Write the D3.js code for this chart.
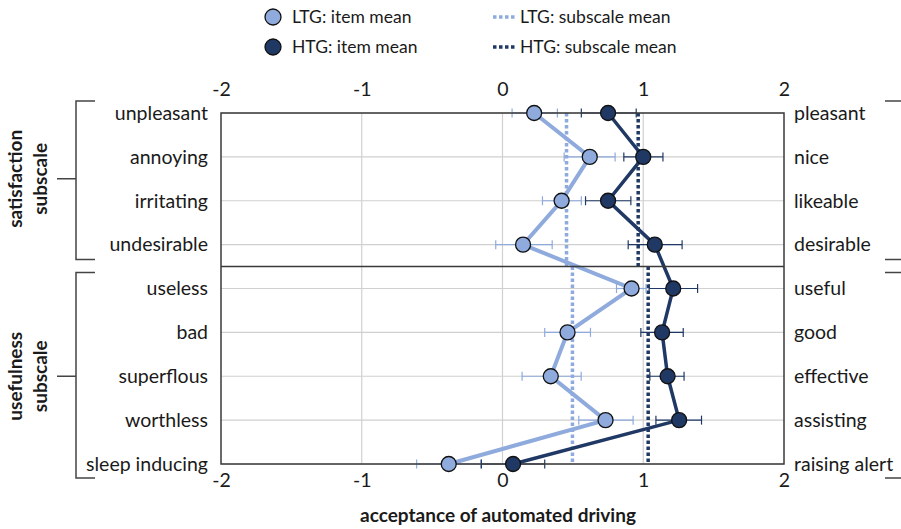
<!DOCTYPE html>
<html>
<head>
<meta charset="utf-8">
<script src="https://cdn.jsdelivr.net/npm/d3@7"></script>
<style>
  body { margin: 0; background: #fff; }
  svg { font-family: Lato, "Open Sans", sans-serif; }
</style>
</head>
<body>
<svg id="chart" width="901" height="529"></svg>
<script>
// item pairs (left pole / right pole)
const leftItems = ["unpleasant", "annoying", "irritating", "undesirable", "useless", "bad", "superflous", "worthless", "sleep inducing"];
const rightItems = ["pleasant", "nice", "likeable", "desirable", "useful", "good", "effective", "assisting", "raising alert"];
const xTicks = [-2, -1, 0, 1, 2];

// LTG: item mean and confidence interval
const ltgMean = [0.225, 0.62, 0.42, 0.146, 0.917, 0.462, 0.343, 0.732, -0.382];
const ltgLow  = [0.068, 0.438, 0.284, -0.048, 0.81, 0.30, 0.139, 0.542, -0.61];
const ltgHigh = [0.39, 0.80, 0.56, 0.353, 1.02, 0.625, 0.559, 0.928, -0.154];

// HTG: item mean and confidence interval
const htgMean = [0.75, 1.0, 0.75, 1.082, 1.213, 1.134, 1.173, 1.255, 0.075];
const htgLow  = [0.56, 0.862, 0.59, 0.893, 1.042, 0.983, 1.047, 1.09, -0.15];
const htgHigh = [0.95, 1.14, 0.912, 1.276, 1.386, 1.284, 1.29, 1.414, 0.30];

// subscales: satisfaction = items 0-3, usefulness = items 4-8
const subscales = [
  { name: ["satisfaction", "subscale"], first: 0, last: 3 },
  { name: ["usefulness", "subscale"], first: 4, last: 8 }
];
const ltgSubMean = [0.455, 0.497];
const htgSubMean = [0.964, 1.035];

const LTG = "#8FAADC";
const HTG = "#203864";

const svg = d3.select("#chart");
const pLeft = 221, pRight = 784, pTop = 113, pBottom = 464;

const x = d3.scaleLinear().domain([-2, 2]).range([pLeft, pRight]);
const y = d3.scalePoint().domain(d3.range(leftItems.length)).range([pTop, pBottom]);
const divY = (y(3) + y(4)) / 2;

// grid
svg.append("g").selectAll("line")
  .data(xTicks.slice(1, -1))
  .enter().append("line")
  .attr("x1", d => x(d)).attr("x2", d => x(d))
  .attr("y1", pTop).attr("y2", pBottom)
  .attr("stroke", "#d0d0d0").attr("stroke-width", 1.2);

svg.append("g").selectAll("line")
  .data(d3.range(leftItems.length))
  .enter().append("line")
  .attr("x1", pLeft).attr("x2", pRight)
  .attr("y1", d => y(d)).attr("y2", d => y(d))
  .attr("stroke", "#d0d0d0").attr("stroke-width", 1.2);

// subscale mean lines
function subLines(vals, color) {
  svg.append("g").selectAll("line")
    .data(subscales)
    .enter().append("line")
    .attr("x1", (d, i) => x(vals[i])).attr("x2", (d, i) => x(vals[i]))
    .attr("y1", (d, i) => i === 0 ? pTop : divY)
    .attr("y2", (d, i) => i === 0 ? divY : pBottom)
    .attr("stroke", color).attr("stroke-width", 3.5)
    .attr("stroke-dasharray", "3.5,2.5");
}
subLines(ltgSubMean, LTG);
subLines(htgSubMean, HTG);

// error bars
function errorBars(lo, hi, color) {
  const g = svg.append("g").attr("stroke", color).attr("stroke-width", 1.2);
  const idx = d3.range(lo.length);
  g.selectAll(".bar").data(idx).enter().append("line")
    .attr("x1", i => x(lo[i])).attr("x2", i => x(hi[i]))
    .attr("y1", i => y(i)).attr("y2", i => y(i));
  g.selectAll(".capL").data(idx).enter().append("line")
    .attr("x1", i => x(lo[i])).attr("x2", i => x(lo[i]))
    .attr("y1", i => y(i) - 4.5).attr("y2", i => y(i) + 4.5);
  g.selectAll(".capH").data(idx).enter().append("line")
    .attr("x1", i => x(hi[i])).attr("x2", i => x(hi[i]))
    .attr("y1", i => y(i) - 4.5).attr("y2", i => y(i) + 4.5);
}
errorBars(ltgLow, ltgHigh, LTG);
errorBars(htgLow, htgHigh, HTG);

// series lines
const line = d3.line().x(d => x(d[0])).y(d => y(d[1]));
svg.append("path")
  .attr("d", line(ltgMean.map((v, i) => [v, i])))
  .attr("fill", "none").attr("stroke", LTG).attr("stroke-width", 4);
svg.append("path")
  .attr("d", line(htgMean.map((v, i) => [v, i])))
  .attr("fill", "none").attr("stroke", HTG).attr("stroke-width", 3.5);

// frame and divider
svg.append("rect")
  .attr("x", pLeft).attr("y", pTop)
  .attr("width", pRight - pLeft).attr("height", pBottom - pTop)
  .attr("fill", "none").attr("stroke", "#3a3a3a").attr("stroke-width", 1.5);
svg.append("line")
  .attr("x1", pLeft).attr("x2", pRight).attr("y1", divY).attr("y2", divY)
  .attr("stroke", "#3a3a3a").attr("stroke-width", 1.5);

// markers
function markers(vals, color) {
  svg.append("g").selectAll("circle")
    .data(vals)
    .enter().append("circle")
    .attr("cx", d => x(d)).attr("cy", (d, i) => y(i))
    .attr("r", 7.5)
    .attr("fill", color).attr("stroke", "#111").attr("stroke-width", 1.3);
}
markers(ltgMean, LTG);
markers(htgMean, HTG);

// axes
const fs = "19.5px";
const topAxis = svg.append("g")
  .attr("transform", `translate(0,${pTop - 16})`)
  .call(d3.axisTop(x).tickValues(xTicks).tickSize(0).tickPadding(0).tickFormat(d => String(d)));
const botAxis = svg.append("g")
  .attr("transform", `translate(0,${pBottom + 8})`)
  .call(d3.axisBottom(x).tickValues(xTicks).tickSize(0).tickPadding(0).tickFormat(d => String(d)));
const leftAxis = svg.append("g")
  .attr("transform", `translate(${pLeft - 13},0)`)
  .call(d3.axisLeft(y).tickSize(0).tickPadding(0).tickFormat(i => leftItems[i]));
const rightAxis = svg.append("g")
  .attr("transform", `translate(${pRight + 10},0)`)
  .call(d3.axisRight(y).tickSize(0).tickPadding(0).tickFormat(i => rightItems[i]));

[topAxis, botAxis, leftAxis, rightAxis].forEach(a => {
  a.select(".domain").remove();
  a.selectAll("text")
    .attr("font-family", "Lato, 'Open Sans', sans-serif")
    .attr("font-size", fs).attr("fill", "#1a1a1a");
});
topAxis.selectAll("text").attr("dy", "-0.05em");
botAxis.selectAll("text").attr("dy", "0.75em");

// axis title
svg.append("text")
  .attr("x", 498).attr("y", 522)
  .attr("text-anchor", "middle")
  .attr("font-size", "19px").attr("font-weight", "bold").attr("fill", "#1a1a1a")
  .text("acceptance of automated driving");

// subscale brackets and labels
const bracketTop = [y(0) - 12, divY + 6];
const bracketBot = [divY - 7, y(8) + 14];
subscales.forEach((s, i) => {
  const t = bracketTop[i], b = bracketBot[i], m = (y(s.first) + y(s.last)) / 2;
  svg.append("path")
    .attr("d", `M95,${t}H76V${b}H95M76,${m}H57`)
    .attr("fill", "none").attr("stroke", "#444").attr("stroke-width", 1.5);
  svg.append("path")
    .attr("d", `M885,${t}H905M885,${b}H905`)
    .attr("fill", "none").attr("stroke", "#444").attr("stroke-width", 1.5);
  const lab = svg.append("text")
    .attr("transform", `translate(22,${m}) rotate(-90)`)
    .attr("text-anchor", "middle")
    .attr("font-size", "19px").attr("font-weight", "bold").attr("fill", "#1a1a1a");
  s.name.forEach((w, k) => {
    lab.append("tspan").attr("x", 0).attr("dy", k === 0 ? 0 : "1.3em").text(w);
  });
});

// legend
const legend = svg.append("g").attr("font-size", "17.5px").attr("fill", "#1a1a1a");
const legItems = [
  { type: "dot", color: LTG, label: "LTG: item mean", lx: 273, ly: 17 },
  { type: "dot", color: HTG, label: "HTG: item mean", lx: 273, ly: 47 },
  { type: "dash", color: LTG, label: "LTG: subscale mean", lx: 504, ly: 17 },
  { type: "dash", color: HTG, label: "HTG: subscale mean", lx: 504, ly: 47 }
];
legItems.forEach(d => {
  if (d.type === "dot") {
    legend.append("circle").attr("cx", d.lx).attr("cy", d.ly).attr("r", 8)
      .attr("fill", d.color).attr("stroke", "#111").attr("stroke-width", 1.3);
  } else {
    legend.append("line").attr("x1", d.lx - 11).attr("x2", d.lx + 11)
      .attr("y1", d.ly).attr("y2", d.ly)
      .attr("stroke", d.color).attr("stroke-width", 3.5).attr("stroke-dasharray", "3.5,2.5");
  }
  legend.append("text").attr("x", d.lx + (d.type === "dot" ? 19 : 16)).attr("y", d.ly)
    .attr("dy", "0.35em").text(d.label);
});
</script>
</body>
</html>
